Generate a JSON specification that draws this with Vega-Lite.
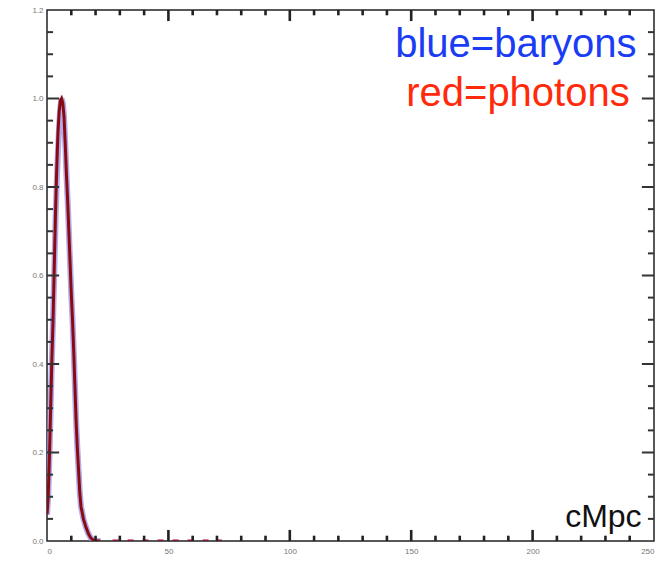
{
  "$schema": "https://vega.github.io/schema/vega-lite/v6.json",
  "width": 607,
  "height": 531,
  "autosize": {"type": "none"},
  "padding": {"left": 47, "top": 10, "right": 9, "bottom": 20},
  "background": "white",
  "config": {
    "view": {"stroke": "#222", "strokeWidth": 1.5},
    "axis": {"grid": false, "domain": false, "ticks": false, "title": null, "labelFont": "Liberation Sans", "labelFontSize": 8, "labelColor": "#777"}
  },
  "datasets": {
    "photons": [
      {"x": 0, "y": 0.06}, {"x": 0.5, "y": 0.1}, {"x": 1, "y": 0.19}, {"x": 1.5, "y": 0.3},
      {"x": 2, "y": 0.41}, {"x": 2.5, "y": 0.5}, {"x": 3, "y": 0.62}, {"x": 3.5, "y": 0.74},
      {"x": 4, "y": 0.84}, {"x": 4.5, "y": 0.92}, {"x": 5, "y": 0.97}, {"x": 5.5, "y": 0.995},
      {"x": 6, "y": 1.0}, {"x": 6.5, "y": 0.99}, {"x": 7, "y": 0.96}, {"x": 7.5, "y": 0.9},
      {"x": 8, "y": 0.83}, {"x": 8.5, "y": 0.77}, {"x": 9, "y": 0.7}, {"x": 9.5, "y": 0.63},
      {"x": 10, "y": 0.56}, {"x": 10.5, "y": 0.5}, {"x": 11, "y": 0.43}, {"x": 11.5, "y": 0.35},
      {"x": 12, "y": 0.27}, {"x": 12.5, "y": 0.21}, {"x": 13, "y": 0.16}, {"x": 13.5, "y": 0.11},
      {"x": 14, "y": 0.078}, {"x": 15, "y": 0.05}, {"x": 16, "y": 0.032}, {"x": 17, "y": 0.017},
      {"x": 18, "y": 0.007}, {"x": 19, "y": 0.002}, {"x": 20, "y": 0.0}, {"x": 22, "y": 0.0}
    ],
    "baryons": [
      {"x": 0, "y": 0.06}, {"x": 0.5, "y": 0.1}, {"x": 1, "y": 0.19}, {"x": 1.5, "y": 0.3},
      {"x": 2, "y": 0.41}, {"x": 2.5, "y": 0.5}, {"x": 3, "y": 0.61}, {"x": 3.5, "y": 0.72},
      {"x": 4, "y": 0.81}, {"x": 4.5, "y": 0.88}, {"x": 5, "y": 0.94}, {"x": 5.5, "y": 0.98},
      {"x": 6, "y": 1.0}, {"x": 6.5, "y": 0.99}, {"x": 7, "y": 0.96}, {"x": 7.5, "y": 0.9},
      {"x": 8, "y": 0.83}, {"x": 8.5, "y": 0.77}, {"x": 9, "y": 0.7}, {"x": 9.5, "y": 0.63},
      {"x": 10, "y": 0.56}, {"x": 10.5, "y": 0.5}, {"x": 11, "y": 0.43}, {"x": 11.5, "y": 0.35},
      {"x": 12, "y": 0.27}, {"x": 12.5, "y": 0.21}, {"x": 13, "y": 0.16}, {"x": 13.5, "y": 0.11},
      {"x": 14, "y": 0.078}, {"x": 15, "y": 0.05}, {"x": 16, "y": 0.032}, {"x": 17, "y": 0.017},
      {"x": 18, "y": 0.007}, {"x": 19, "y": 0.002}, {"x": 20, "y": 0.0}, {"x": 22, "y": 0.0}
    ],
    "tail": [
      {"x": 27, "y": 0.0}, {"x": 72, "y": 0.0}
    ],
    "xMajor": [{"v": 50}, {"v": 100}, {"v": 150}, {"v": 200}],
    "xMinor": [{"v": 10}, {"v": 20}, {"v": 30}, {"v": 40}, {"v": 60}, {"v": 70}, {"v": 80}, {"v": 90}, {"v": 110}, {"v": 120}, {"v": 130}, {"v": 140}, {"v": 160}, {"v": 170}, {"v": 180}, {"v": 190}, {"v": 210}, {"v": 220}, {"v": 230}, {"v": 240}],
    "yMajor": [{"v": 0.2}, {"v": 0.4}, {"v": 0.6}, {"v": 0.8}, {"v": 1.0}],
    "yMinor": [{"v": 0.05}, {"v": 0.1}, {"v": 0.15}, {"v": 0.25}, {"v": 0.3}, {"v": 0.35}, {"v": 0.45}, {"v": 0.5}, {"v": 0.55}, {"v": 0.65}, {"v": 0.7}, {"v": 0.75}, {"v": 0.85}, {"v": 0.9}, {"v": 0.95}, {"v": 1.05}, {"v": 1.1}, {"v": 1.15}],
    "blueLabel": [{"x": 242.8, "y": 1.094, "text": "blue=baryons"}],
    "redLabel": [{"x": 240, "y": 0.983, "text": "red=photons"}],
    "unitLabel": [{"x": 244.9, "y": 0.032, "text": "cMpc"}]
  },
  "layer": [
    {
      "data": {"name": "baryons"},
      "mark": {"type": "line", "color": "#9b8de0", "strokeWidth": 6, "opacity": 0.75, "clip": true},
      "encoding": {
        "x": {"field": "x", "type": "quantitative", "scale": {"domain": [0, 250], "nice": false},
          "axis": {"orient": "bottom", "values": [0, 50, 100, 150, 200, 250], "labelPadding": 6, "format": "d"}},
        "y": {"field": "y", "type": "quantitative", "scale": {"domain": [0, 1.2], "nice": false},
          "axis": {"orient": "left", "values": [0, 0.2, 0.4, 0.6, 0.8, 1.0, 1.2], "labelPadding": 4, "format": ".1f"}}
      }
    },
    {
      "data": {"name": "photons"},
      "mark": {"type": "line", "color": "#8a0a12", "strokeWidth": 3, "clip": true},
      "encoding": {
        "x": {"field": "x", "type": "quantitative"},
        "y": {"field": "y", "type": "quantitative"}
      }
    },
    {
      "data": {"name": "tail"},
      "mark": {"type": "line", "color": "#8a1040", "strokeWidth": 3, "strokeDash": [6, 9], "clip": true},
      "encoding": {
        "x": {"field": "x", "type": "quantitative"},
        "y": {"field": "y", "type": "quantitative"}
      }
    },
    {
      "data": {"name": "xMajor"},
      "mark": {"type": "rule", "color": "#222", "strokeWidth": 2.6},
      "encoding": {"x": {"field": "v", "type": "quantitative"}, "y": {"datum": 0}, "y2": {"datum": 0.025}}
    },
    {
      "data": {"name": "xMajor"},
      "mark": {"type": "rule", "color": "#222", "strokeWidth": 2.6},
      "encoding": {"x": {"field": "v", "type": "quantitative"}, "y": {"datum": 1.2}, "y2": {"datum": 1.175}}
    },
    {
      "data": {"name": "xMinor"},
      "mark": {"type": "rule", "color": "#222", "strokeWidth": 2.6},
      "encoding": {"x": {"field": "v", "type": "quantitative"}, "y": {"datum": 0}, "y2": {"datum": 0.012}}
    },
    {
      "data": {"name": "xMinor"},
      "mark": {"type": "rule", "color": "#222", "strokeWidth": 2.6},
      "encoding": {"x": {"field": "v", "type": "quantitative"}, "y": {"datum": 1.2}, "y2": {"datum": 1.188}}
    },
    {
      "data": {"name": "yMajor"},
      "mark": {"type": "rule", "color": "#333", "strokeWidth": 2},
      "encoding": {"y": {"field": "v", "type": "quantitative"}, "x": {"datum": 0}, "x2": {"datum": 5}}
    },
    {
      "data": {"name": "yMajor"},
      "mark": {"type": "rule", "color": "#333", "strokeWidth": 2},
      "encoding": {"y": {"field": "v", "type": "quantitative"}, "x": {"datum": 250}, "x2": {"datum": 245}}
    },
    {
      "data": {"name": "yMinor"},
      "mark": {"type": "rule", "color": "#333", "strokeWidth": 2},
      "encoding": {"y": {"field": "v", "type": "quantitative"}, "x": {"datum": 0}, "x2": {"datum": 2.5}}
    },
    {
      "data": {"name": "yMinor"},
      "mark": {"type": "rule", "color": "#333", "strokeWidth": 2},
      "encoding": {"y": {"field": "v", "type": "quantitative"}, "x": {"datum": 250}, "x2": {"datum": 247.5}}
    },
    {
      "data": {"name": "blueLabel"},
      "mark": {"type": "text", "align": "right", "baseline": "alphabetic", "font": "Liberation Sans", "fontSize": 40, "color": "#1a3cf5"},
      "encoding": {
        "x": {"field": "x", "type": "quantitative"},
        "y": {"field": "y", "type": "quantitative"},
        "text": {"field": "text"}
      }
    },
    {
      "data": {"name": "redLabel"},
      "mark": {"type": "text", "align": "right", "baseline": "alphabetic", "font": "Liberation Sans", "fontSize": 40, "color": "#ff2a0a"},
      "encoding": {
        "x": {"field": "x", "type": "quantitative"},
        "y": {"field": "y", "type": "quantitative"},
        "text": {"field": "text"}
      }
    },
    {
      "data": {"name": "unitLabel"},
      "mark": {"type": "text", "align": "right", "baseline": "alphabetic", "font": "Liberation Sans", "fontSize": 32, "color": "#111"},
      "encoding": {
        "x": {"field": "x", "type": "quantitative"},
        "y": {"field": "y", "type": "quantitative"},
        "text": {"field": "text"}
      }
    }
  ]
}
